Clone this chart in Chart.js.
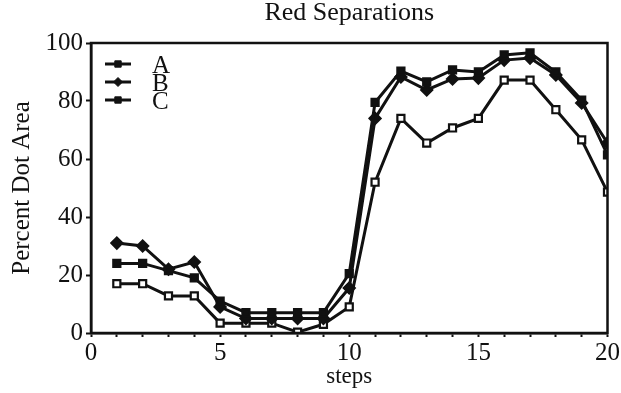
<!DOCTYPE html>
<html>
<head>
<meta charset="utf-8">
<script src="https://cdn.jsdelivr.net/npm/chart.js@4/dist/chart.umd.min.js"></script>
<style>
  html, body { margin: 0; padding: 0; background: #fff; }
  #wrap { width: 621px; height: 393px; }
</style>
</head>
<body>
<div id="wrap"><canvas id="c" width="621" height="393"></canvas></div>
<script>
const steps = [1, 2, 3, 4, 5, 6, 7, 8, 9, 10, 11, 12, 13, 14, 15, 16, 17, 18, 19, 20];
const seriesA = [24, 24, 21.5, 19, 11, 7, 7, 7, 7, 20.5, 79.5, 90.3, 86.6, 90.7, 90, 95.9, 96.6, 90, 80.3, 61.4];
const seriesB = [31, 30, 22, 24.5, 9, 5, 5, 5, 5, 15.5, 74, 88.3, 83.8, 87.6, 87.9, 94.1, 94.8, 89, 79.3, 65.5];
const seriesC = [17, 17, 12.8, 12.8, 3.4, 3.4, 3.4, 0.3, 3, 9, 52, 74, 65.5, 70.7, 74, 87.2, 87.2, 77, 66.6, 48.6];
const seriesLabels = ['A', 'B', 'C'];
const yTicks = [0, 20, 40, 60, 80, 100];
const xTicks = [0, 5, 10, 15, 20];

const FONT = 'Liberation Serif';
const toXY = arr => steps.map((s, i) => ({ x: s, y: arr[i] }));

const styles = [
  { pointStyle: 'rect', bg: '#111', radius: 5 },
  { pointStyle: 'rectRot', bg: '#111', radius: 5.5 },
  { pointStyle: 'rect', bg: '#fff', radius: 5 }
];
const allSeries = [seriesA, seriesB, seriesC];

const datasets = allSeries.map((s, i) => ({
  label: seriesLabels[i],
  data: toXY(s),
  borderColor: '#111',
  borderWidth: 3,
  pointStyle: styles[i].pointStyle,
  pointRadius: styles[i].radius,
  pointBackgroundColor: styles[i].bg,
  pointBorderColor: '#111',
  pointBorderWidth: 2.2,
  tension: 0,
  fill: false
}));

const boxPlugin = {
  id: 'box',
  afterDraw(chart) {
    const { ctx, chartArea: a } = chart;
    ctx.save();
    ctx.strokeStyle = '#111';
    ctx.lineWidth = 2.5;
    ctx.strokeRect(a.left, a.top, a.right - a.left, a.bottom - a.top);
    ctx.restore();
  }
};

const innerLegend = {
  id: 'innerLegend',
  afterDatasetsDraw(chart) {
    const { ctx, chartArea: a } = chart;
    ctx.save();
    chart.data.datasets.forEach((ds, i) => {
      const y = a.top + 21 + i * 18;
      const x0 = a.left + 14, x1 = a.left + 40;
      ctx.strokeStyle = ds.borderColor;
      ctx.lineWidth = ds.borderWidth;
      ctx.beginPath(); ctx.moveTo(x0, y); ctx.lineTo(x1, y); ctx.stroke();
      ctx.fillStyle = '#111';
      ctx.strokeStyle = '#111';
      ctx.lineWidth = 1;
      Chart.helpers.drawPoint(ctx, {
        pointStyle: ds.pointStyle, radius: 4.5, rotation: 0, borderWidth: 1
      }, (x0 + x1) / 2, y);
      ctx.fillStyle = '#111';
      ctx.font = '25px "' + FONT + '"';
      ctx.textBaseline = 'middle';
      ctx.textAlign = 'left';
      ctx.fillText(ds.label, a.left + 61, y + 2);
    });
    ctx.restore();
  }
};

new Chart(document.getElementById('c'), {
  type: 'line',
  data: { datasets },
  plugins: [boxPlugin, innerLegend],
  options: {
    responsive: false,
    animation: false,
    devicePixelRatio: 1,
    layout: { padding: { left: 0, right: 12, top: 0, bottom: 0 } },
    plugins: {
      legend: { display: false },
      tooltip: { enabled: false },
      title: {
        display: true,
        fullSize: false,
        text: 'Red Separations',
        color: '#111',
        font: { family: FONT, size: 26, weight: 'normal', lineHeight: 1.0 },
        padding: { top: 0, bottom: 17 }
      }
    },
    scales: {
      x: {
        type: 'linear',
        min: 0, max: 20,
        afterFit(s) { s.height = 60; },
        afterBuildTicks(s) { s.ticks = [0].concat(steps).map(v => ({ value: v })); },
        ticks: {
          autoSkip: false,
          maxRotation: 0,
          color: '#111',
          padding: 1,
          font: { family: FONT, size: 25 },
          callback: v => xTicks.includes(v) ? String(v) : ''
        },
        grid: { drawOnChartArea: false, tickLength: 4, color: '#111', tickWidth: 2 },
        border: { display: true, color: '#111', width: 2.5 },
        title: {
          display: true, text: 'steps', color: '#111',
          font: { family: FONT, size: 23, lineHeight: 1.2 },
          padding: { top: 0, bottom: 2 }
        }
      },
      y: {
        min: 0, max: 100,
        afterFit(s) { s.width = 91; },
        ticks: {
          stepSize: 10,
          color: '#111',
          padding: 3,
          font: { family: FONT, size: 25 },
          callback: v => yTicks.includes(v) ? String(v) : ''
        },
        grid: { drawOnChartArea: false, tickLength: 5, color: '#111', tickWidth: 2 },
        border: { display: true, color: '#111', width: 2.5 },
        title: {
          display: true, text: 'Percent Dot Area', color: '#111',
          font: { family: FONT, size: 25, lineHeight: 1.2 },
          padding: { top: 7, bottom: 0 }
        }
      }
    }
  }
});
</script>
</body>
</html>
